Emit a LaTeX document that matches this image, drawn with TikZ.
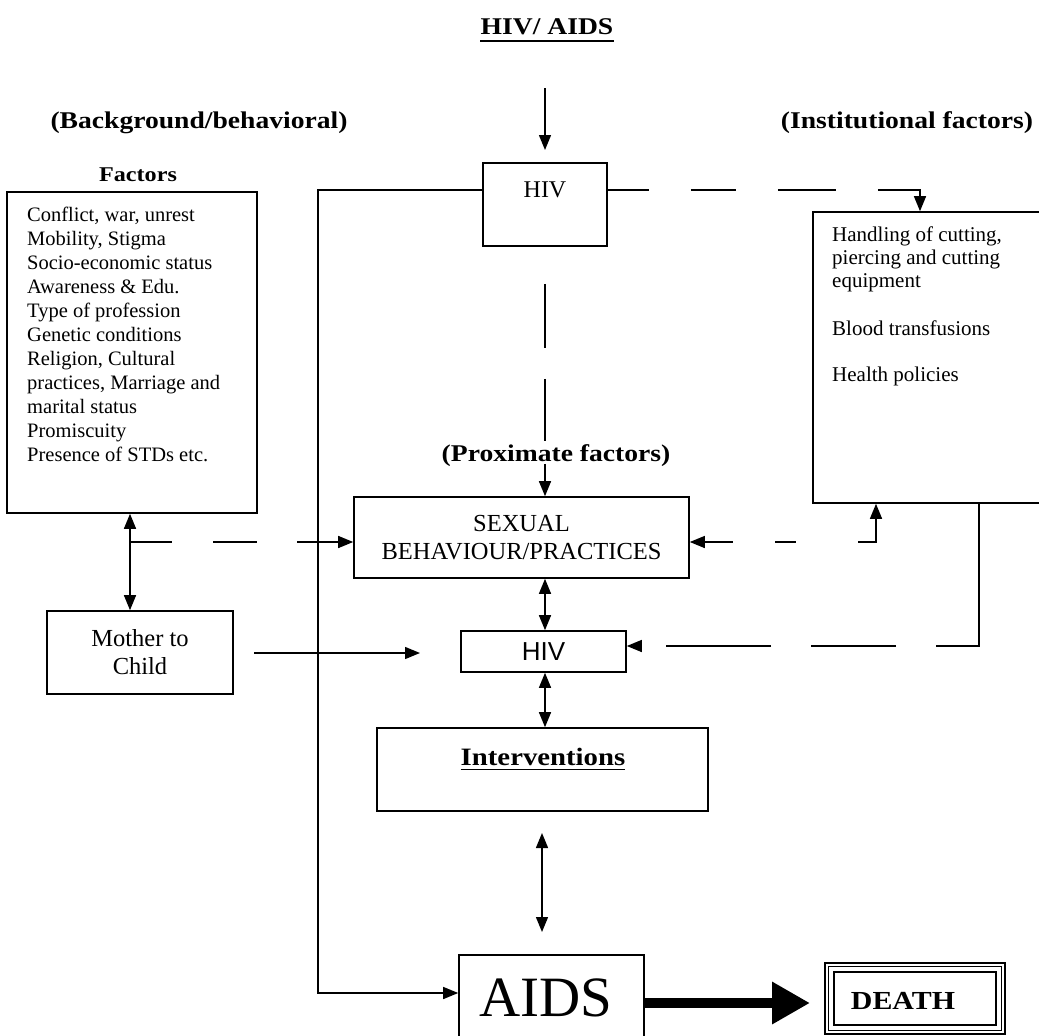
\documentclass[tikz,border=0pt]{standalone}
\usepackage{fontspec}
\setmainfont{Liberation Serif}
\newfontfamily\hdfont[FakeStretch=1.15]{Liberation Serif}
\newfontfamily\sansf{Liberation Sans}
\usetikzlibrary{arrows.meta,calc}
\tikzset{
  box/.style={draw, line width=1.6pt, inner sep=0pt},
  conn/.style={line width=1.4pt},
  tip/.style={-{Triangle[length=15pt,width=12pt]}},
  ttip/.style={{Triangle[length=15pt,width=12pt]}-{Triangle[length=15pt,width=12pt]}},
  hd/.style={inner sep=0pt, font=\hdfont\bfseries\fontsize{24}{28}\selectfont},
  body/.style={inner sep=0pt, align=left, font=\fontsize{20.5}{24}\selectfont},
  rbody/.style={inner sep=0pt, align=left, font=\fontsize{21}{22.6}\selectfont},
}
\begin{document}
\begin{tikzpicture}[x=1pt,y=-1pt]
\useasboundingbox (0,0) rectangle (1039,1036);
\clip (0,0) rectangle (1039,1036);

% headings
\node[hd] (title) at (547,27) {HIV/ AIDS};
\draw[line width=2.4pt] ($(title.base west)+(0,6)$) -- ($(title.base east)+(0,6)$);
\node[hd] (hbg) at (199,123) {(Background/behavioral)};
\node[hd] (hin) at (907,123) {(Institutional factors)};
\node[hd] (hprox) at (556,456) {(Proximate factors)};
\node[inner sep=0pt, font=\hdfont\bfseries\fontsize{21}{24}\selectfont] (hfac) at (138,175) {Factors};

% boxes
\node[box, minimum width=124pt, minimum height=83pt] (HIV1) at (545,204.5) {};
\node[inner sep=0pt, font=\fontsize{24}{28}\selectfont] (HIVt) at (545,190) {HIV};

\node[box, minimum width=250pt, minimum height=321pt] (FB) at (132,352.5) {};
\node[body, anchor=north west] (FBt) at (27,207) {Conflict, war, unrest\\Mobility, Stigma\\Socio-economic status\\Awareness \& Edu.\\Type of profession\\Genetic conditions\\Religion, Cultural\\practices, Marriage and\\marital status\\Promiscuity\\Presence of STDs etc.};

\node[box, minimum width=237pt, minimum height=291pt] (INST) at (931.5,357.5) {};
\node[rbody, anchor=north west] (INt1) at (832,227) {Handling of cutting,\\piercing and cutting\\equipment};
\node[rbody, anchor=base west] (INt2) at (832,335) {Blood transfusions};
\node[rbody, anchor=base west] (INt3) at (832,381.5) {Health policies};

\node[box, minimum width=335pt, minimum height=81pt, align=center, font=\fontsize{24.5}{28}\selectfont] (SEX) at (521.5,537.5) {SEXUAL\\BEHAVIOUR/PRACTICES};

\node[box, minimum width=186pt, minimum height=83pt, align=center, font=\fontsize{24.5}{28}\selectfont] (MC) at (140,652.5) {Mother to\\Child};

\node[box, minimum width=165pt, minimum height=41pt, font=\sansf\fontsize{26}{30}\selectfont] (HIV2) at (543.5,651.5) {HIV};

\node[box, minimum width=331pt, minimum height=83pt] (INT) at (542.5,769.5) {};
\node[inner sep=0pt, font=\hdfont\bfseries\fontsize{25}{30}\selectfont] (INTt) at (543,757) {Interventions};
\draw[line width=1.8pt] ($(INTt.base west)+(0,4)$) -- ($(INTt.base east)+(0,4)$);

\node[box, minimum width=185pt, minimum height=95pt] (AIDS) at (551.5,1002.5) {};
\node[inner sep=0pt, font=\fontsize{57}{60}\selectfont] (AIDSt) at (546,998) {AIDS};

\node[draw, line width=1.8pt, inner sep=0pt, minimum width=180pt, minimum height=71pt] (DEATH) at (915,998.5) {};
\draw[line width=0.9pt] ($(DEATH.south west)+(4,-4)$) rectangle ($(DEATH.north east)+(-4,4)$);
\draw[line width=2pt] ($(DEATH.south west)+(9.5,-9.5)$) rectangle ($(DEATH.north east)+(-9.5,9.5)$);
\node[inner sep=0pt, font=\hdfont\bfseries\fontsize{26}{30}\selectfont] (DEATHt) at (903,1001) {DEATH};

% helper coordinates
\coordinate (topstart) at (545,88);
\coordinate (topend) at (545,150);
\coordinate (vl) at (318,993);
\coordinate (lx) at (130,542);
\coordinate (cx) at (545,0);
\coordinate (ry) at (0,542);
\coordinate (rb1) at (876,542);
\coordinate (rb2) at (979,646);
\coordinate (rt) at (920,190);
\coordinate (mcs) at (254,653);
\coordinate (mce) at (420,653);
\coordinate (ia) at (542,833);
\coordinate (ib) at (542,932);
\coordinate (ta) at (644,1003);
\coordinate (tb) at (810,1003);

% connectors
\draw[conn,tip] (topstart) -- (topend);
\draw[conn,tip] (HIV1.west |- HIVt) -| (vl) -- (vl -| AIDS.west);
\draw[conn,tip,dash pattern=on 41pt off 42pt on 45pt off 42pt on 58pt off 42pt on 200pt]
  (HIV1.east |- HIVt) -- (rt) -- (rt |- INST.north);
\draw[conn,tip,dash pattern=on 0pt off 37pt on 64pt off 31pt on 62pt off 23pt on 200pt]
  (HIV1.south) -- (HIV1.south |- SEX.north);
\draw[conn,ttip] (lx |- FB.south) -- (lx |- MC.north);
\draw[conn,tip,dash pattern=on 42pt off 41pt on 44pt off 40pt on 200pt]
  (lx) -- (lx -| SEX.west);
\draw[conn,ttip,dash pattern=on 29pt off 42pt on 21pt off 62pt on 200pt]
  (SEX.east |- ry) -- (rb1) -- (rb1 |- INST.south);
\draw[conn,tip,dash pattern=on 185pt off 40pt on 85pt off 40pt on 105pt off 200pt]
  (rb2 |- INST.south) -- (rb2) -- (rb2 -| HIV2.east);
\draw[conn,tip] (mcs) -- (mce);
\draw[conn,ttip] (cx |- SEX.south) -- (cx |- HIV2.north);
\draw[conn,ttip] (cx |- HIV2.south) -- (cx |- INT.north);
\draw[conn,ttip] (ia) -- (ib);
\draw[line width=10pt,-{Triangle[length=38pt,width=40pt]}] (ta) -- (tb);
\end{tikzpicture}
\end{document}
